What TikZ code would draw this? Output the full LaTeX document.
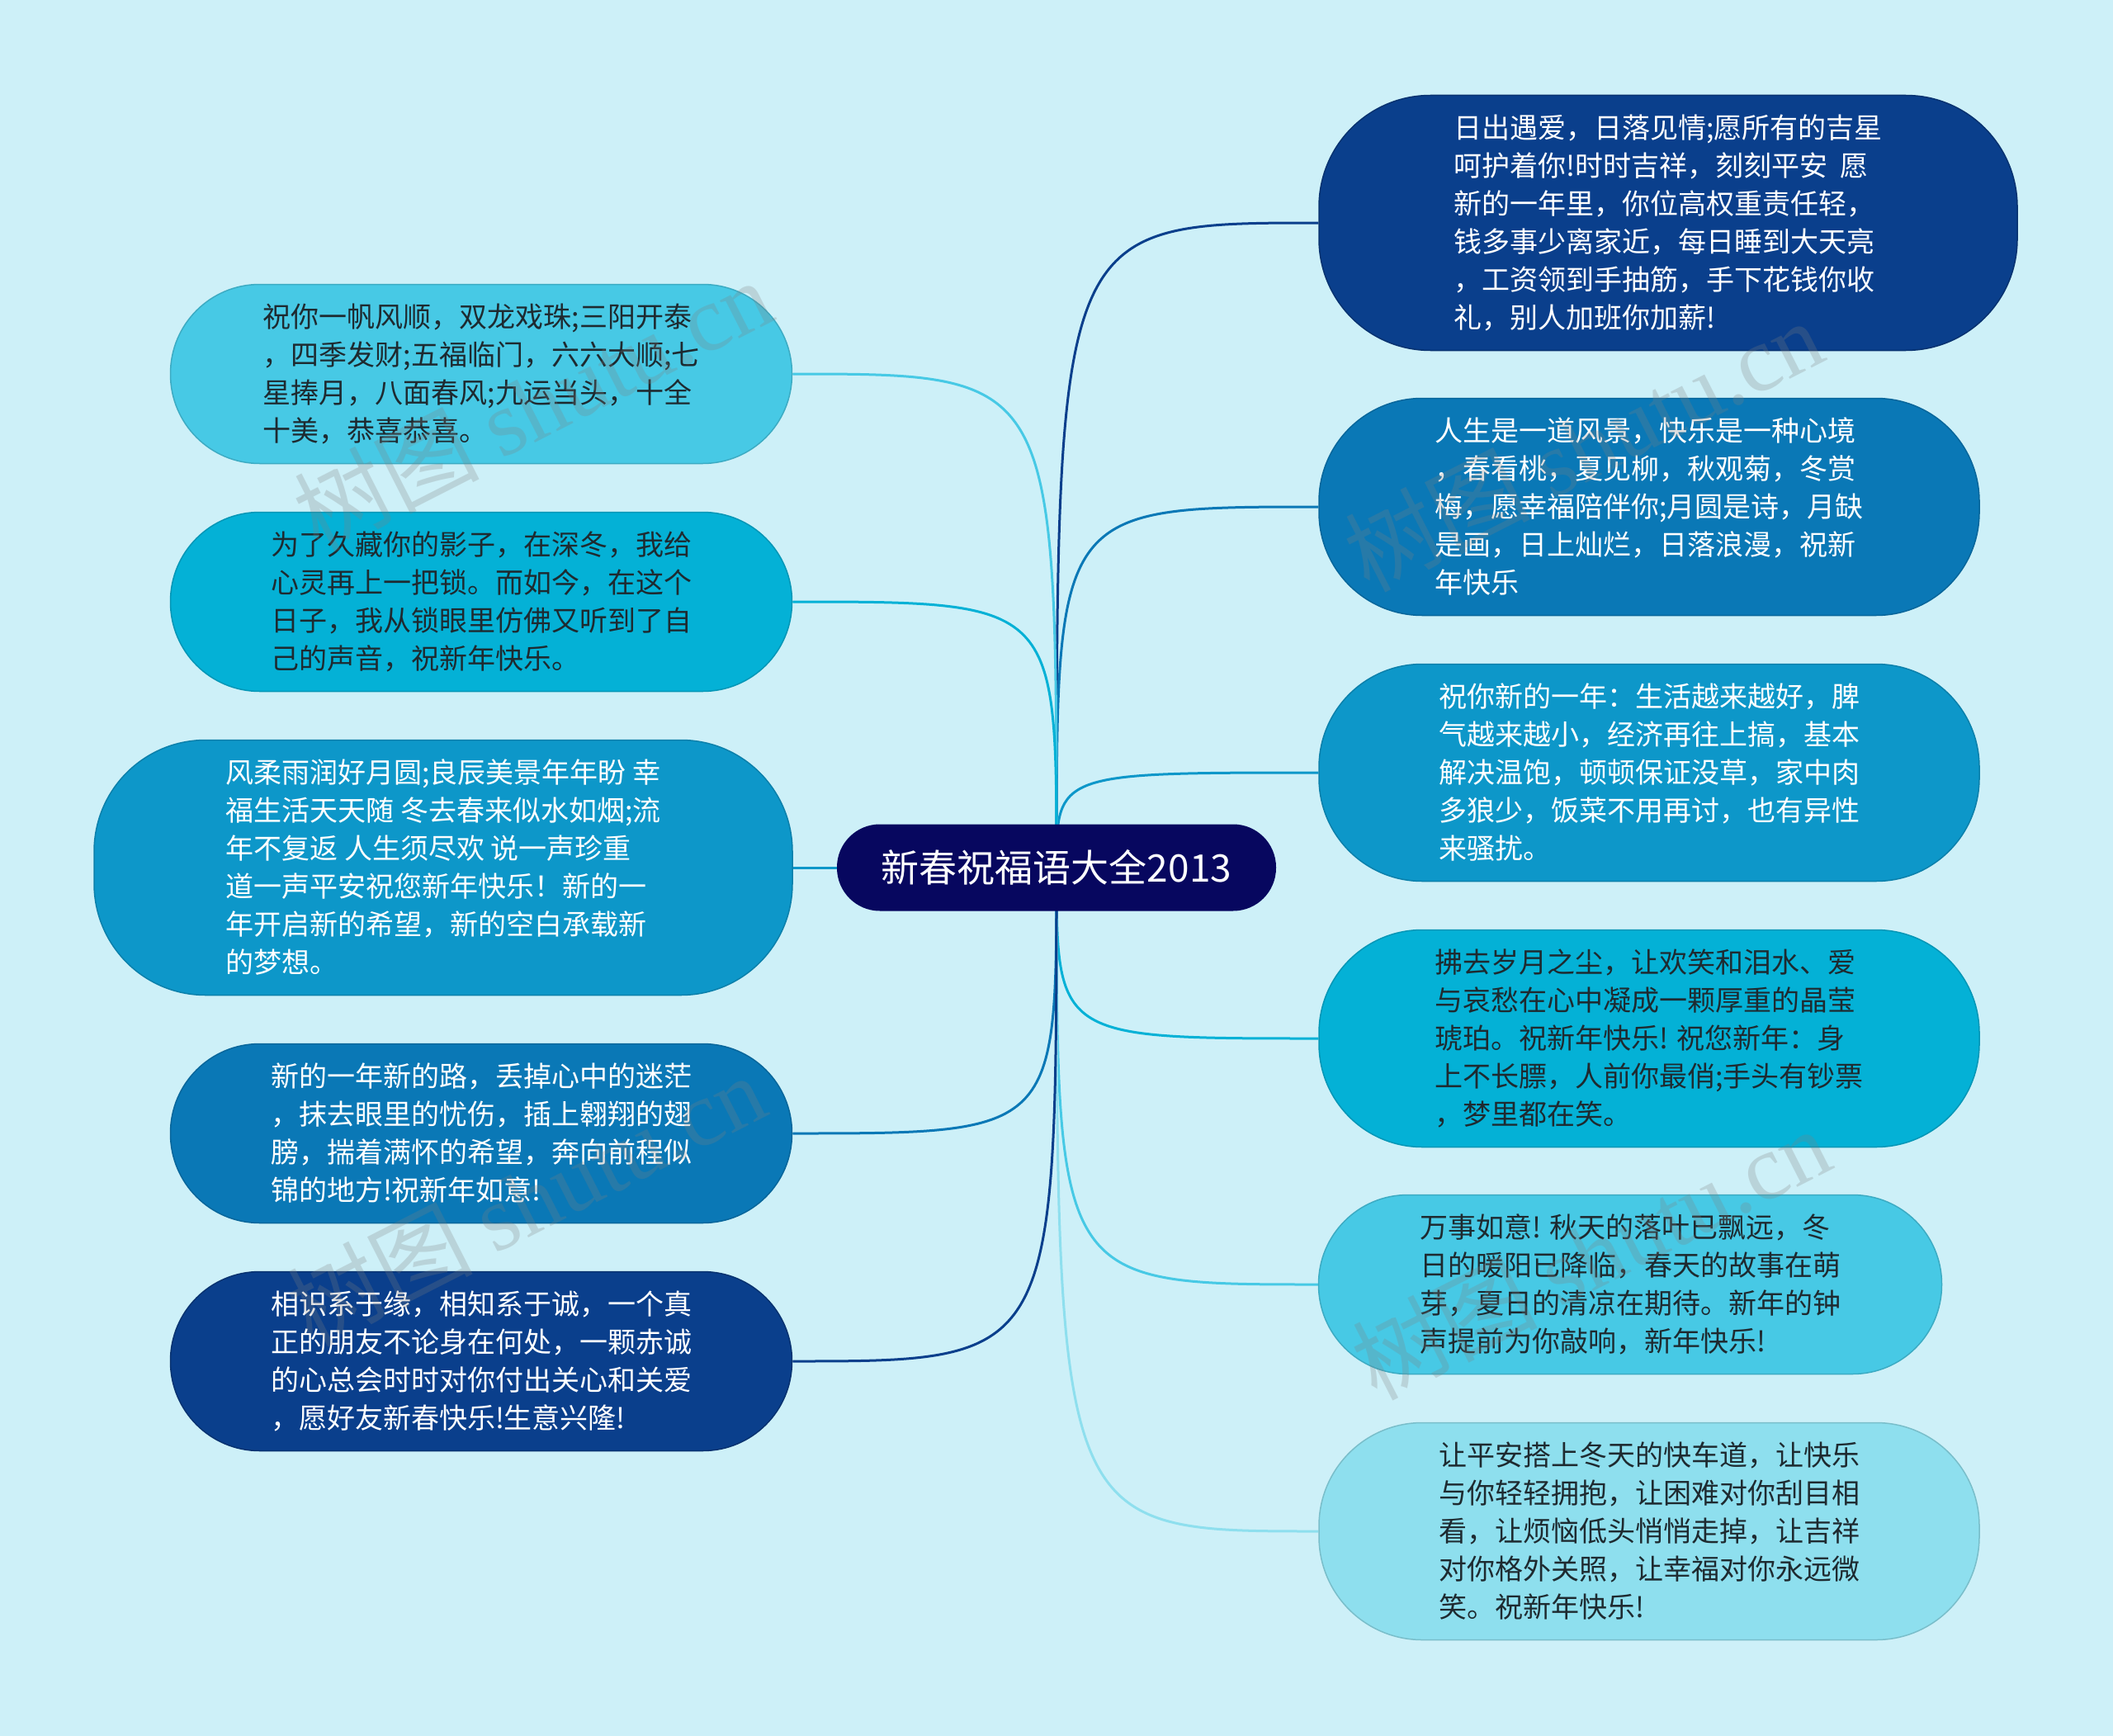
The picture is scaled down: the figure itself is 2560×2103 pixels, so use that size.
\documentclass[tikz,border=0pt]{standalone}
\usepackage{fontspec}
\setmainfont{Noto Sans CJK SC}
\newfontfamily\wmlatin{Liberation Serif}
\usetikzlibrary{backgrounds}
\definecolor{bgc}{HTML}{CDF0F8}
\definecolor{cnav}{HTML}{07075F}
\definecolor{cA}{HTML}{0A3F8C}
\definecolor{cB}{HTML}{0A78B6}
\definecolor{cC}{HTML}{0D97C9}
\definecolor{cD}{HTML}{04B1D6}
\definecolor{cE}{HTML}{47C9E5}
\definecolor{cF}{HTML}{8EDFEE}
\definecolor{dtext}{HTML}{1E2A30}
\tikzset{
  leaf/.style={rectangle, rounded corners=#1, inner sep=0pt, align=left,
    font=\fontsize{34}{46}\selectfont, line width=1.5pt},
  big/.style={leaf=135pt, minimum height=309pt},
  mid/.style={leaf=125pt, minimum height=263pt},
  small/.style={leaf=108pt, minimum height=217pt},
  conn/.style={line width=3pt},
  wm/.style={rotate=27, text=gray, opacity=0.25, font=\fontsize{112}{112}\selectfont}
}
\begin{document}
\begin{tikzpicture}[x=1pt,y=-1pt]
\useasboundingbox (0,0) rectangle (2560,2103);
\begin{scope}[on background layer]
\fill[bgc] (0,0) rectangle (2560,2103);
\end{scope}

% center
\node[rectangle, rounded corners=52pt, fill=cnav, minimum width=532pt, minimum height=105pt,
  text=white, font=\fontsize{46}{50}\selectfont] (C) at (1280,1051) {新春祝福语大全2013};

% right nodes
\node[big, fill=cA, draw=cA!80!black, minimum width=846pt, text=white] (R1) at (2021,270) {日出遇爱，日落见情;愿所有的吉星\\呵护着你!时时吉祥，刻刻平安\ \ 愿\\新的一年里，你位高权重责任轻，\\钱多事少离家近，每日睡到大天亮\\，工资领到手抽筋，手下花钱你收\\礼，别人加班你加薪!};
\node[mid, fill=cB, draw=cB!85!black, minimum width=800pt, text=white] (R2) at (1998,614) {人生是一道风景，快乐是一种心境\\，春看桃，夏见柳，秋观菊，冬赏\\梅，愿幸福陪伴你;月圆是诗，月缺\\是画，日上灿烂，日落浪漫，祝新\\年快乐};
\node[mid, fill=cC, draw=cC!85!black, minimum width=800pt, text=white] (R3) at (1998,936) {祝你新的一年：生活越来越好，脾\\气越来越小，经济再往上搞，基本\\解决温饱，顿顿保证没草，家中肉\\多狼少，饭菜不用再讨，也有异性\\来骚扰。};
\node[mid, fill=cD, draw=cD!85!black, minimum width=800pt, text=dtext] (R4) at (1998,1258) {拂去岁月之尘，让欢笑和泪水、爱\\与哀愁在心中凝成一颗厚重的晶莹\\琥珀。祝新年快乐! 祝您新年：身\\上不长膘，人前你最俏;手头有钞票\\，梦里都在笑。};
\node[small, fill=cE, draw=cE!85!black, minimum width=755pt, text=dtext] (R5) at (1975,1556) {万事如意! 秋天的落叶已飘远，冬\\日的暖阳已降临，春天的故事在萌\\芽，夏日的清凉在期待。新年的钟\\声提前为你敲响，新年快乐!};
\node[mid, fill=cF, draw=cF!85!black, minimum width=800pt, text=dtext] (R6) at (1998,1855) {让平安搭上冬天的快车道，让快乐\\与你轻轻拥抱，让困难对你刮目相\\看，让烦恼低头悄悄走掉，让吉祥\\对你格外关照，让幸福对你永远微\\笑。祝新年快乐!};

% left nodes
\node[small, fill=cE, draw=cE!85!black, minimum width=753pt, text=dtext] (L1) at (583,453) {祝你一帆风顺，双龙戏珠;三阳开泰\\，四季发财;五福临门，六六大顺;七\\星捧月，八面春风;九运当头，十全\\十美，恭喜恭喜。};
\node[small, fill=cD, draw=cD!85!black, minimum width=753pt, text=dtext] (L2) at (583,729) {为了久藏你的影子，在深冬，我给\\心灵再上一把锁。而如今，在这个\\日子，我从锁眼里仿佛又听到了自\\己的声音，祝新年快乐。};
\node[big, fill=cC, draw=cC!85!black, minimum width=846pt, text=white] (L3) at (537,1051) {风柔雨润好月圆;良辰美景年年盼 幸\\福生活天天随 冬去春来似水如烟;流\\年不复返 人生须尽欢 说一声珍重\\道一声平安祝您新年快乐！新的一\\年开启新的希望，新的空白承载新\\的梦想。};
\node[small, fill=cB, draw=cB!85!black, minimum width=753pt, text=white] (L4) at (583,1373) {新的一年新的路，丢掉心中的迷茫\\，抹去眼里的忧伤，插上翱翔的翅\\膀，揣着满怀的希望，奔向前程似\\锦的地方!祝新年如意!};
\node[small, fill=cA, draw=cA!80!black, minimum width=753pt, text=white] (L5) at (583,1649) {相识系于缘，相知系于诚，一个真\\正的朋友不论身在何处，一颗赤诚\\的心总会时时对你付出关心和关爱\\，愿好友新春快乐!生意兴隆!};

% connectors
\begin{scope}[on background layer]
\foreach \n/\c in {R1/cA,R2/cB,R3/cC,R4/cD,R5/cE,R6/cF}
  \draw[conn, \c] (C.center) .. controls (C.center |- \n.west) .. (\n.west);
\foreach \n/\c in {L1/cE,L2/cD,L3/cC,L4/cB,L5/cA}
  \draw[conn, \c] (C.center) .. controls (C.center |- \n.east) .. (\n.east);
\end{scope}

% watermarks
\node[wm] (W1) at (645,490) {树图 {\wmlatin shutu.cn}};
\node[wm] (W2) at (1918,539) {树图 {\wmlatin shutu.cn}};
\node[wm] (W3) at (637,1453) {树图 {\wmlatin shutu.cn}};
\node[wm] (W4) at (1927,1518) {树图 {\wmlatin shutu.cn}};
\end{tikzpicture}
\end{document}
